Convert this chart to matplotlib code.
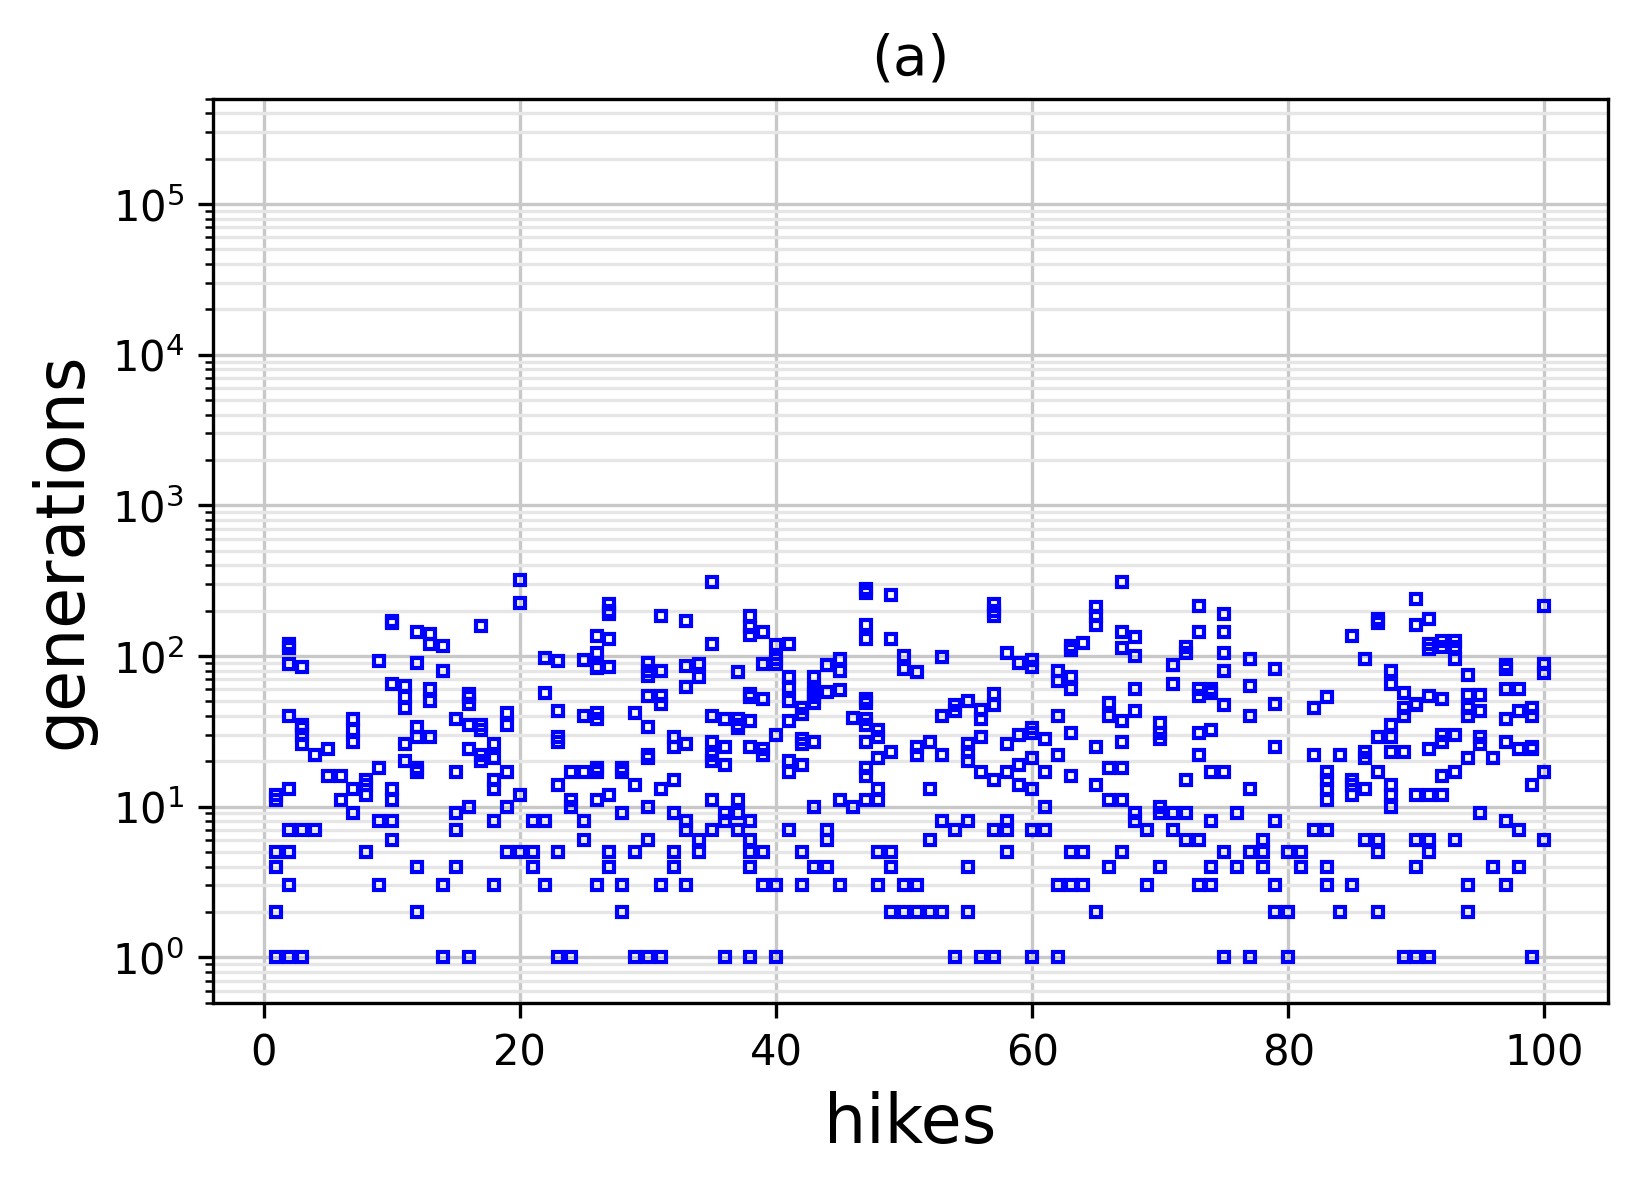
import numpy as np
import matplotlib
matplotlib.use('Agg')
import matplotlib.pyplot as plt

# generations per hike (hike 1..100)
g01_25 = [
    [1, 2, 4, 5, 11, 12],
    [1, 3, 5, 7, 13, 40, 88, 113, 120],
    [1, 7, 26, 30, 33, 35, 85],
    [7, 22],
    [16, 24],
    [11, 16],
    [9, 13, 27, 32, 38],
    [5, 12, 14, 15],
    [3, 8, 18, 93],
    [6, 8, 11, 13, 65, 165, 170],
    [20, 26, 45, 53, 63],
    [2, 4, 17, 18, 29, 34, 90, 145],
    [29, 50, 60, 120, 140],
    [1, 3, 80, 117],
    [4, 7, 9, 17, 38],
    [1, 10, 24, 35, 48, 53, 56],
    [20, 22, 32, 35, 157],
    [3, 8, 13, 15, 21, 26],
    [5, 10, 17, 35, 42],
    [5, 12, 225, 320],
    [4, 5, 8],
    [3, 8, 57, 97],
    [1, 5, 14, 27, 29, 43, 93],
    [1, 10, 11, 17],
    [6, 8, 17, 40, 94],
]
g26_50 = [
    [3, 11, 17, 18, 38, 42, 83, 85, 105, 135],
    [4, 5, 12, 84, 130, 190, 200, 220],
    [2, 3, 9, 17, 18],
    [1, 5, 14, 42],
    [1, 6, 10, 21, 22, 34, 54, 74, 80, 90],
    [1, 3, 13, 48, 54, 80, 185],
    [4, 5, 9, 15, 25, 29],
    [3, 7, 8, 26, 62, 86, 170],
    [5, 6, 72, 88],
    [7, 11, 20, 22, 27, 40, 120, 310],
    [1, 8, 9, 19, 25, 38],
    [7, 9, 11, 33, 35, 38, 78],
    [1, 4, 5, 6, 8, 25, 37, 53, 56, 137, 155, 185],
    [3, 5, 22, 24, 52, 88, 145],
    [1, 3, 30, 88, 95, 118],
    [7, 17, 20, 37, 50, 61, 72, 120],
    [3, 5, 19, 26, 28, 41, 45],
    [4, 10, 27, 49, 53, 57, 60, 72],
    [4, 6, 7, 58, 87],
    [3, 11, 59, 79, 95],
    [10, 39],
    [11, 16, 18, 27, 35, 38, 49, 52, 130, 160, 260, 280],
    [3, 5, 11, 13, 21, 29, 32],
    [2, 4, 5, 23, 130, 255],
    [2, 3, 82, 100],
]
g51_75 = [
    [2, 3, 22, 25, 78],
    [2, 6, 13, 27],
    [2, 8, 22, 40, 98],
    [1, 7, 43, 47],
    [2, 4, 8, 20, 23, 26, 50],
    [1, 17, 29, 38, 44],
    [1, 7, 15, 47, 56, 185, 200, 220],
    [5, 7, 8, 17, 26, 105],
    [14, 19, 30, 90],
    [1, 7, 13, 21, 31, 33, 85, 94],
    [7, 10, 17, 28],
    [1, 3, 22, 40, 68, 80],
    [3, 5, 16, 31, 60, 72, 110, 117],
    [3, 5, 122],
    [2, 14, 25, 160, 185, 210],
    [4, 11, 18, 40, 49],
    [5, 11, 18, 27, 37, 113, 145, 310],
    [8, 9, 43, 60, 100, 133],
    [3, 7],
    [4, 9, 10, 28, 31, 36],
    [7, 9, 65, 87],
    [6, 9, 15, 104, 115],
    [3, 6, 22, 31, 54, 60, 145, 215],
    [3, 4, 8, 17, 32, 57, 60],
    [1, 5, 17, 47, 80, 105, 145, 190],
]
g76_100 = [
    [4, 9],
    [1, 5, 13, 40, 63, 95],
    [4, 5, 6],
    [2, 3, 8, 25, 48, 82],
    [1, 2, 5],
    [4, 5],
    [7, 22, 45],
    [3, 4, 7, 11, 13, 15, 17, 53],
    [2, 22],
    [3, 12, 14, 15, 135],
    [6, 13, 21, 23, 95],
    [2, 5, 6, 17, 29, 165, 175],
    [10, 12, 14, 23, 29, 35, 65, 80],
    [1, 23, 40, 45, 57],
    [1, 4, 6, 12, 47, 48, 160, 240],
    [1, 5, 6, 12, 24, 54, 112, 120, 175],
    [12, 16, 27, 30, 52, 115, 125],
    [6, 17, 30, 95, 115, 125],
    [2, 3, 21, 40, 45, 55, 75],
    [9, 26, 29, 43, 55],
    [4, 21],
    [3, 8, 27, 38, 60, 82, 87],
    [4, 7, 24, 43, 60],
    [1, 14, 24, 25, 40, 45],
    [6, 17, 77, 88, 215],
]

groups = g01_25 + g26_50 + g51_75 + g76_100
hikes = []
gens = []
for i, g in enumerate(groups):
    hikes += [i + 1] * len(g)
    gens += g

fig = plt.figure(figsize=(1639/300, 1188.6/300), dpi=300)
ax = fig.add_axes([0.130, 0.156, 0.851, 0.7605])

ax.plot(hikes, gens, 's', mfc='none', mec='b', ms=2.3, mew=1.0)
ax.set_yscale('log')
ax.set_ylim(0.5, 5e5)
ax.grid(True, which='major', color='#c8c8c8', lw=0.8)
ax.grid(True, which='minor', axis='y', color='#e6e6e6', lw=0.8)
ax.set_axisbelow(True)
ax.tick_params(labelsize=10)
ax.set_xlabel('hikes', fontsize=16)
ax.set_ylabel('generations', fontsize=16)
ax.set_title('(a)', fontsize=13.5)

fig.savefig('out.png', dpi=300)
